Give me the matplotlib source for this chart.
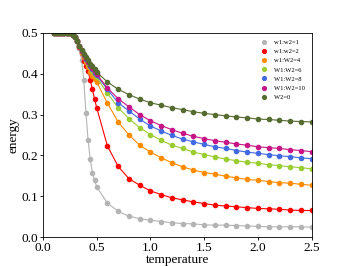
import numpy as np
import matplotlib
matplotlib.use("Agg")
import matplotlib.pyplot as plt

plt.rcParams['font.family'] = ['Liberation Serif', 'DejaVu Serif']

# temperature grid: dense 0.10..0.50 (step 0.02), then 0.6..2.5 (step 0.1)
temp_fine = [0.10, 0.12, 0.14, 0.16, 0.18, 0.20, 0.22, 0.24, 0.26, 0.28, 0.30,
             0.32, 0.34, 0.36, 0.38, 0.40, 0.42, 0.44, 0.46, 0.48, 0.50]
temp_coarse = [0.6, 0.7, 0.8, 0.9, 1.0, 1.1, 1.2, 1.3, 1.4, 1.5, 1.6, 1.7, 1.8,
               1.9, 2.0, 2.1, 2.2, 2.3, 2.4, 2.5]
temperature = temp_fine + temp_coarse

flat_part = [0.500, 0.500, 0.500, 0.500, 0.500, 0.500, 0.500, 0.500, 0.499,
             0.496, 0.490, 0.481]

e_r1 = flat_part + [0.462, 0.434, 0.385, 0.305, 0.238, 0.191, 0.158, 0.140, 0.123,
                    0.083, 0.063, 0.051, 0.045, 0.041, 0.038, 0.035, 0.033, 0.032, 0.030,
                    0.029, 0.029, 0.028, 0.027, 0.026, 0.025, 0.025, 0.025, 0.025, 0.024]
e_r2 = flat_part + [0.466, 0.450, 0.432, 0.420, 0.406, 0.385, 0.362, 0.339, 0.317,
                    0.223, 0.173, 0.143, 0.127, 0.113, 0.104, 0.096, 0.091, 0.086, 0.082,
                    0.078, 0.076, 0.074, 0.072, 0.070, 0.069, 0.068, 0.066, 0.065, 0.065]
e_r4 = flat_part + [0.467, 0.452, 0.440, 0.428, 0.416, 0.404, 0.394, 0.387, 0.380,
                    0.328, 0.282, 0.250, 0.225, 0.208, 0.194, 0.182, 0.172, 0.164, 0.158,
                    0.154, 0.149, 0.145, 0.141, 0.139, 0.136, 0.133, 0.132, 0.129, 0.127]
e_r6 = flat_part + [0.468, 0.455, 0.445, 0.435, 0.425, 0.416, 0.407, 0.399, 0.391,
                    0.352, 0.317, 0.290, 0.268, 0.251, 0.237, 0.225, 0.217, 0.208, 0.202,
                    0.196, 0.191, 0.187, 0.183, 0.181, 0.177, 0.175, 0.172, 0.170, 0.167]
e_r8 = flat_part + [0.468, 0.456, 0.446, 0.437, 0.428, 0.419, 0.411, 0.403, 0.396,
                    0.362, 0.329, 0.309, 0.289, 0.272, 0.260, 0.249, 0.240, 0.233, 0.227,
                    0.221, 0.217, 0.212, 0.208, 0.205, 0.202, 0.199, 0.197, 0.194, 0.192]
e_r10 = flat_part + [0.469, 0.457, 0.447, 0.438, 0.429, 0.421, 0.413, 0.406, 0.399,
                     0.365, 0.339, 0.319, 0.300, 0.285, 0.273, 0.263, 0.254, 0.247, 0.241,
                     0.236, 0.232, 0.228, 0.225, 0.221, 0.219, 0.217, 0.214, 0.212, 0.209]
e_w20 = flat_part + [0.469, 0.458, 0.449, 0.441, 0.433, 0.425, 0.418, 0.411, 0.404,
                     0.380, 0.362, 0.349, 0.338, 0.329, 0.323, 0.317, 0.312, 0.307, 0.303,
                     0.300, 0.297, 0.294, 0.292, 0.289, 0.288, 0.286, 0.284, 0.283, 0.282]

series = [
    ("w1:w2=1", e_r1, '#b4b4b4'),
    ("w1:w2=2", e_r2, '#ff0000'),
    ("w1:W2=4", e_r4, '#ff8c00'),
    ("W1:W2=6", e_r6, '#9acd32'),
    ("W1:W2=8", e_r8, '#4169e1'),
    ("W1:W2=10", e_r10, '#c71585'),
    ("W2=0", e_w20, '#556b2f'),
]

fig = plt.figure(figsize=(3.46, 2.66), dpi=100)
ax = fig.add_axes([0.124, 0.109, 0.777, 0.767])

for label, vals, col in series:
    ax.plot(temperature, vals, color=col, linewidth=0.8)
    ax.plot(temperature, vals, color=col, linestyle='none', marker='o',
            markersize=3.0, label=label)

ax.set_xlim(0, 2.5)
ax.set_ylim(0, 0.5)
ax.set_xticks([0.0, 0.5, 1.0, 1.5, 2.0, 2.5])
ax.set_yticks([0.0, 0.1, 0.2, 0.3, 0.4, 0.5])
ax.tick_params(labelsize=9.5, width=0.6, length=2, pad=1.5)
for sp in ax.spines.values():
    sp.set_linewidth(0.6)
ax.set_xlabel("temperature", fontsize=9.5, labelpad=0)
ax.set_ylabel("energy", fontsize=9.5, labelpad=1)

ax.legend(loc='upper right', fontsize=4.7, frameon=False, handletextpad=0.6,
          labelspacing=0.55, markerscale=0.9, borderaxespad=0.6)

fig.savefig("out.png", dpi=100)
